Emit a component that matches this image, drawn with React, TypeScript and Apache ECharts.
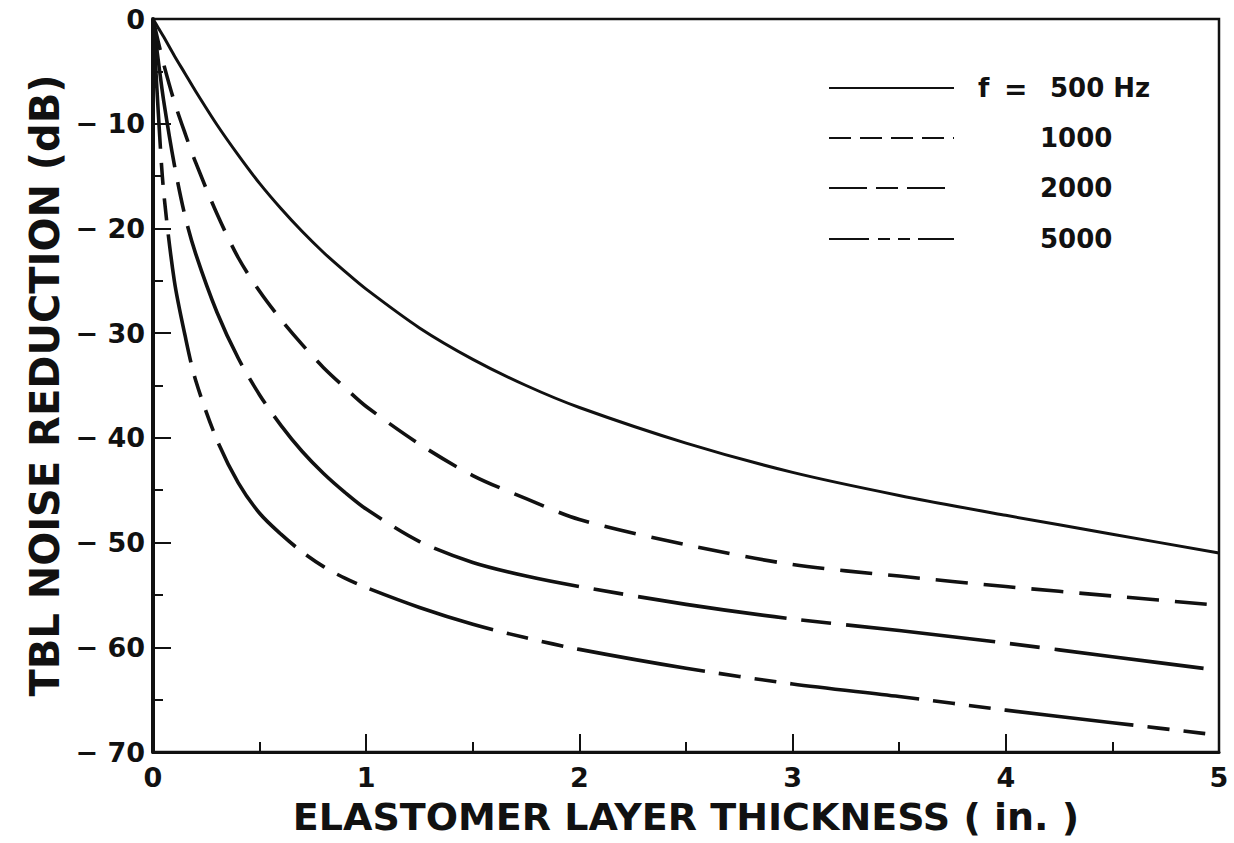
import React, { useEffect, useRef } from "react";
import * as echarts from "echarts";

const thickness = [0, 0.025, 0.05, 0.1, 0.15, 0.2, 0.3, 0.4, 0.5, 0.6, 0.7, 0.8, 0.9, 1.0, 1.25, 1.5, 1.75, 2, 2.5, 3, 3.5, 4, 4.5, 5];
const f500 = [0, -0.85, -1.7, -3.5, -5.2, -6.9, -10.1, -13.0, -15.7, -18.1, -20.3, -22.3, -24.1, -25.8, -29.5, -32.5, -35, -37.1, -40.5, -43.3, -45.5, -47.4, -49.2, -51];
const f1000 = [0, -2.2, -4.3, -7.9, -10.9, -13.7, -18.6, -22.8, -26, -28.7, -31.1, -33.3, -35.2, -37, -40.6, -43.6, -45.8, -47.8, -50.2, -52.1, -53.2, -54.2, -55.1, -56];
const f2000 = [0, -4, -7.8, -13.9, -18.8, -22.4, -28, -32.4, -35.9, -38.8, -41.3, -43.4, -45.2, -46.8, -49.9, -51.9, -53.2, -54.2, -55.9, -57.3, -58.4, -59.6, -60.9, -62.2];
const f5000 = [0, -9, -16.5, -25, -30.2, -34.5, -40.2, -44.3, -47.2, -49.2, -50.9, -52.3, -53.4, -54.3, -56.2, -57.8, -59.1, -60.2, -62, -63.5, -64.7, -66, -67.2, -68.4];

const legendLabels = ["500 Hz", "1000", "2000", "5000"];
const seriesValues = [f500, f1000, f2000, f5000];
const dashes: (number[] | null)[] = [null, [32, 16], [150, 15, 30, 15], [130, 14, 22, 14, 22, 14]];
const legendDashes: (number[] | null)[] = [null, [22, 9], [38, 9, 22, 9], [40, 9, 12, 8, 12, 8]];

const INK = "#111111";
const FONT = "DejaVu Sans";

export default function App() {
  const ref = useRef<HTMLDivElement>(null);
  useEffect(() => {
    if (!ref.current) return;
    const chart = echarts.init(ref.current, undefined, { renderer: "svg" });
    const series = seriesValues.map((vals, i) => ({
      type: "line",
      name: legendLabels[i],
      data: thickness.map((x, j) => [x, vals[j]]),
      smooth: 0.3,
      showSymbol: false,
      symbol: "none",
      lineStyle: {
        color: INK,
        width: i === 0 ? 3 : 3.6,
        type: dashes[i] ? dashes[i] : "solid",
        cap: "butt",
        join: "round",
      },
      z: 3,
    }));
    const legendYs = [88, 138, 188, 239];
    const legendXs = [1050, 1040, 1040, 1040];
    const graphic: any[] = [];
    legendYs.forEach((y, i) => {
      graphic.push({
        type: "line",
        shape: { x1: 829, y1: y, x2: 954, y2: y },
        style: { stroke: INK, lineWidth: 2.2, lineDash: legendDashes[i] || undefined },
      });
      graphic.push({
        type: "text",
        x: legendXs[i],
        y: y,
        style: { text: legendLabels[i], font: `bold 26px "${FONT}"`, fill: INK, verticalAlign: "middle", align: "left" },
      });
    });
    graphic.push({
      type: "text",
      x: 978,
      y: 88,
      style: { text: "f", font: `bold 26px "${FONT}"`, fill: INK, verticalAlign: "middle", align: "left" },
    });
    graphic.push({
      type: "text",
      x: 1004,
      y: 89,
      style: { text: "=", font: `bold 28px "${FONT}"`, fill: INK, verticalAlign: "middle", align: "left" },
    });

    chart.setOption({
      animation: false,
      backgroundColor: "#ffffff",
      grid: { left: 153, top: 19, right: 15, bottom: 91, show: true, borderColor: INK, borderWidth: 2.5, backgroundColor: "transparent" },
      xAxis: {
        type: "value",
        min: 0,
        max: 5,
        interval: 1,
        name: "ELASTOMER LAYER THICKNESS ( in. )",
        nameLocation: "middle",
        nameGap: 46,
        nameTextStyle: { fontFamily: FONT, fontWeight: "bold", fontSize: 38, color: INK },
        axisLine: { show: true, onZero: false, lineStyle: { color: INK, width: 3 } },
        axisTick: { show: true, inside: true, length: 18, lineStyle: { color: INK, width: 2 } },
        minorTick: { show: true, splitNumber: 2, length: 10, lineStyle: { color: INK, width: 2 } },
        axisLabel: { fontFamily: FONT, fontWeight: "bold", fontSize: 27, color: INK, margin: 12 },
        splitLine: { show: false },
      },
      yAxis: {
        type: "value",
        min: -70,
        max: 0,
        interval: 10,
        name: "TBL NOISE REDUCTION (dB)",
        nameLocation: "middle",
        nameGap: 88,
        nameRotate: 90,
        nameTextStyle: { fontFamily: FONT, fontWeight: "bold", fontSize: 40, color: INK },
        axisLine: { show: true, onZero: false, lineStyle: { color: INK, width: 4 } },
        axisTick: { show: true, inside: true, length: 18, lineStyle: { color: INK, width: 2 } },
        minorTick: { show: true, splitNumber: 2, length: 10, lineStyle: { color: INK, width: 2 } },
        axisLabel: {
          fontFamily: FONT,
          fontWeight: "bold",
          fontSize: 27,
          color: INK,
          margin: 8,
          formatter: (v: number) => (v === 0 ? "0" : "\u2212 " + Math.abs(v)),
        },
        splitLine: { show: false },
      },
      series,
      graphic,
    });
    return () => chart.dispose();
  }, []);
  return <div ref={ref} style={{ position: "absolute", left: 0, top: 0, width: 1234, height: 843 }} />;
}
